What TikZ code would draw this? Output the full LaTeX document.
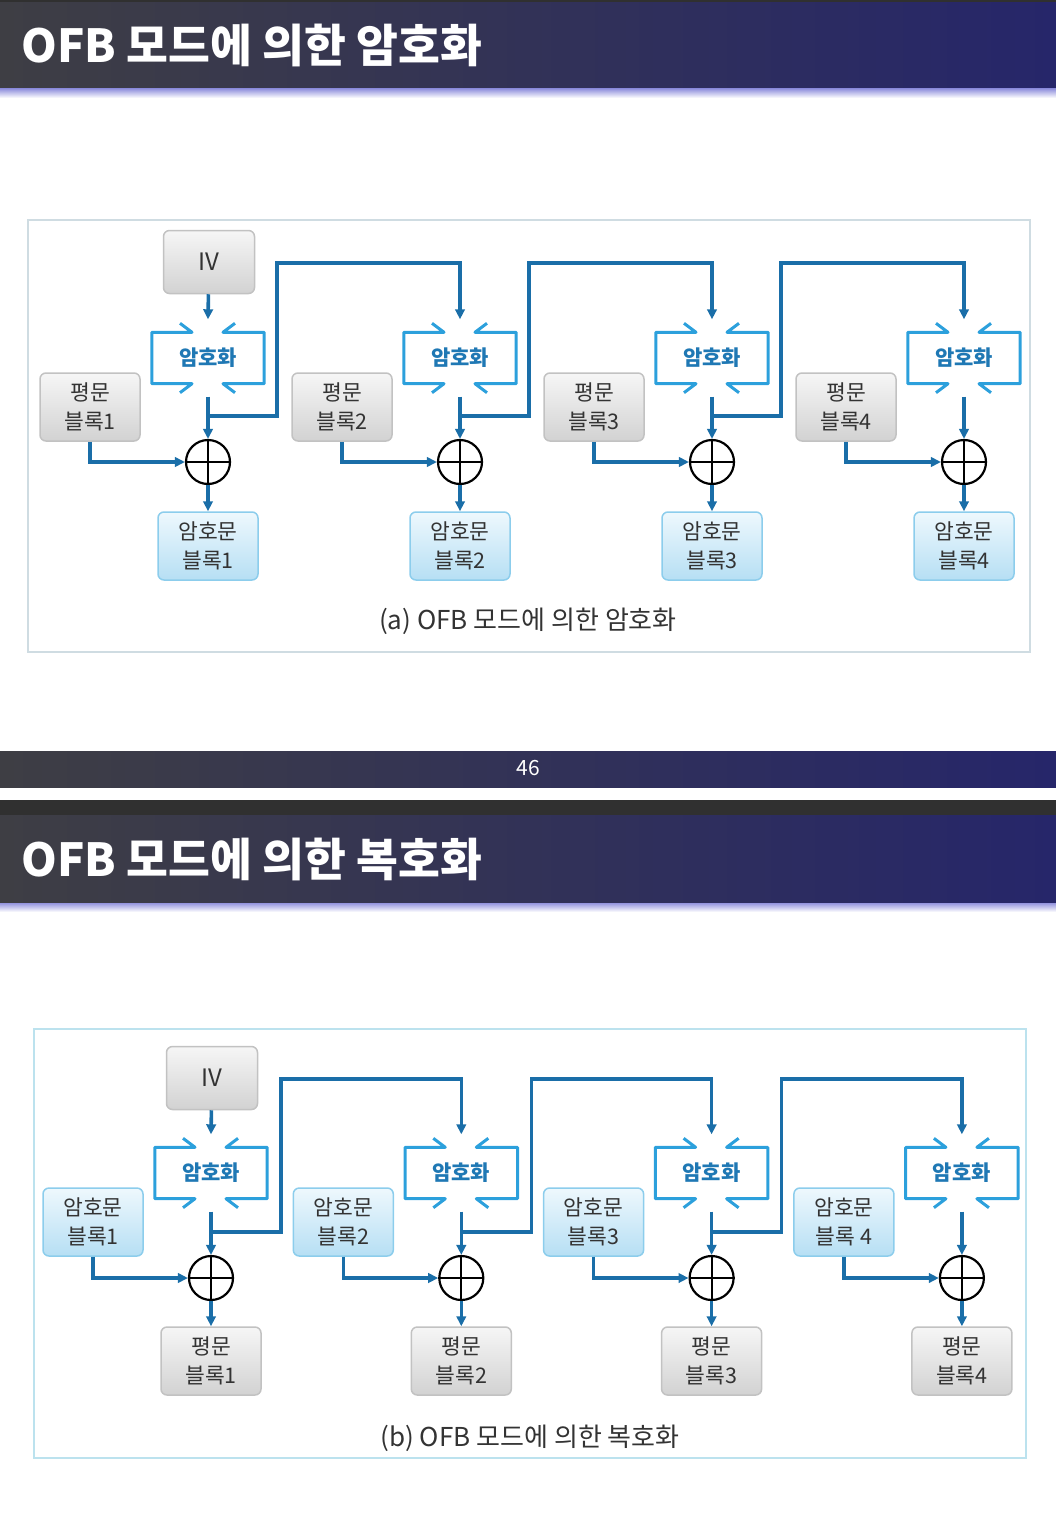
\documentclass[tikz,border=0pt]{standalone}
\usepackage{fontspec}
\setmainfont{Noto Sans CJK KR}
\usepackage{tikz}
\usetikzlibrary{arrows.meta,calc,positioning}

\definecolor{barleft}{HTML}{3E3E44}
\definecolor{barright}{HTML}{26266A}
\definecolor{bardark}{HTML}{303030}
\definecolor{lavender}{HTML}{9494DE}
\definecolor{linkblue}{HTML}{1A6EA8}
\definecolor{encblue}{HTML}{2CA0DC}
\definecolor{enctext}{HTML}{1F78B4}
\definecolor{txtgray}{HTML}{333333}
\definecolor{graytop}{HTML}{F6F6F6}
\definecolor{graybot}{HTML}{D2D2D2}
\definecolor{grayline}{HTML}{C2C2C2}
\definecolor{bluetop}{HTML}{EEF8FD}
\definecolor{bluebot}{HTML}{B6DFF4}
\definecolor{blueline}{HTML}{8CCDEC}
\definecolor{framea}{HTML}{CFDCE2}
\definecolor{frameb}{HTML}{BCE2EE}

\tikzset{
  graybox/.style={draw=grayline, line width=1.5pt, rounded corners=6pt,
    top color=graytop, bottom color=graybot, minimum width=100pt,
    minimum height=68pt, inner sep=0pt, align=center, text=txtgray,
    font=\fontsize{21.5}{29}\selectfont},
  bluebox/.style={graybox, draw=blueline, top color=bluetop, bottom color=bluebot},
  ivbox/.style={graybox, minimum width=91pt, minimum height=63pt,
    font=\fontsize{24}{24}\selectfont},
  encnode/.style={minimum width=112pt, minimum height=51pt, inner sep=0pt,
    text=enctext, font=\fontsize{21}{25}\selectfont\bfseries},
  encline/.style={draw=encblue, line width=3pt, line join=round},
  xorsum/.style={circle, draw=black, fill=white, line width=2.2pt,
    minimum size=44pt, inner sep=0pt},
  link/.style={draw=linkblue, line width=3.6pt, -{Triangle[length=10pt,width=9.5pt]}},
  titletext/.style={anchor=west, text=white, font=\fontsize{45.5}{46}\selectfont\bfseries},
  caption/.style={text=txtgray, font=\fontsize{26}{26}\selectfont},
}

% open frame with inward half arrows round an encryption node
\newcommand\encframe[1]{%
  \draw[encline] ($(#1.north)+(-28,-9)$) -- ($(#1.north)+(-16,0)$) -- (#1.north west)
    -- (#1.south west) -- ($(#1.south)+(-16,0)$) -- ($(#1.south)+(-28,9)$);
  \draw[encline] ($(#1.north)+(27,-9)$) -- ($(#1.north)+(15,0)$) -- (#1.north east)
    -- (#1.south east) -- ($(#1.south)+(15,0)$) -- ($(#1.south)+(27,9)$);
}

\begin{document}
\begin{tikzpicture}[x=1pt,y=-1pt]
\useasboundingbox (0,0) rectangle (1056,1533);

% title bars and footer
\fill[bardark] (0,0) rectangle (1056,3);
\shade[left color=barleft, right color=barright] (0,3) rectangle (1056,89);
\shade[top color=lavender, bottom color=white] (0,89) rectangle (1056,98);
\node[titletext] (titleenc) at (18,45) {OFB 모드에 의한 암호화};

\shade[left color=barleft, right color=barright] (0,751) rectangle (1056,787);
\node[text=white, font=\fontsize{21}{21}\selectfont] (pagenum) at (528,768) {46};

\fill[bardark] (0,800) rectangle (1056,815);
\shade[left color=barleft, right color=barright] (0,815) rectangle (1056,903);
\shade[top color=lavender, bottom color=white] (0,903) rectangle (1056,912);
\node[titletext] (titledec) at (18,859) {OFB 모드에 의한 복호화};

% (a) encryption
\draw[framea, line width=1.2pt] (28,220) rectangle (1030,652);
\node[ivbox] (iva) at (209,262) {IV};
\foreach \i in {1,...,4} {
  \pgfmathsetmacro\cx{208+252*(\i-1)}
  \node[encnode] (enc\i) at (\cx,358) {암호화};
  \encframe{enc\i}
  \coordinate (encin\i) at ($(enc\i.north)+(0,-13)$);
  \coordinate (encout\i) at ($(enc\i.south)+(0,13)$);
  \coordinate (fb\i) at (\cx,416);
  \node[graybox] (plain\i) at (\cx-118,407) {평문\\블록\i};
  \node[xorsum] (xor\i) at (\cx,462) {};
  \node[bluebox] (ciph\i) at (\cx,546) {암호문\\블록\i};
  \draw[link] (encout\i) -- (xor\i.north);
  \draw[link] (plain\i.south) |- (xor\i.west);
  \draw[link] (xor\i.south) -- (ciph\i.north);
  \draw[line width=2.2pt] (xor\i.north) -- (xor\i.south) (xor\i.west) -- (xor\i.east);
}
\draw[link] (iva) -- (encin1);
\foreach \i/\j in {1/2,2/3,3/4}
  \draw[link] (fb\i) -- ++(69,0) -- ++(0,-153) -| (encin\j);
\node[caption] (capa) at (528,621) {(a) OFB 모드에 의한 암호화};

% (b) decryption
\draw[frameb, line width=1.2pt] (34,1029) rectangle (1026,1458);
\node[ivbox] (ivb) at (212,1078) {IV};
\foreach \i/\lab in {1/블록1,2/블록2,3/블록3,4/블록 4} {
  \pgfmathsetmacro\cx{211+250.3*(\i-1)}
  \node[encnode] (denc\i) at (\cx,1173) {암호화};
  \encframe{denc\i}
  \coordinate (dencin\i) at ($(denc\i.north)+(0,-13)$);
  \coordinate (dencout\i) at ($(denc\i.south)+(0,13)$);
  \coordinate (dfb\i) at (\cx,1232);
  \node[bluebox] (dciph\i) at (\cx-118,1222) {암호문\\\lab};
  \node[xorsum] (dxor\i) at (\cx,1278) {};
  \node[graybox] (dplain\i) at (\cx,1361) {평문\\블록\i};
  \draw[link] (dencout\i) -- (dxor\i.north);
  \draw[link] (dciph\i.south) |- (dxor\i.west);
  \draw[link] (dxor\i.south) -- (dplain\i.north);
  \draw[line width=2.2pt] (dxor\i.north) -- (dxor\i.south) (dxor\i.west) -- (dxor\i.east);
}
\draw[link] (ivb) -- (dencin1);
\foreach \i/\j in {1/2,2/3,3/4}
  \draw[link] (dfb\i) -- ++(70,0) -- ++(0,-153) -| (dencin\j);
\node[caption] (capb) at (530,1438) {(b) OFB 모드에 의한 복호화};
\end{tikzpicture}
\end{document}
